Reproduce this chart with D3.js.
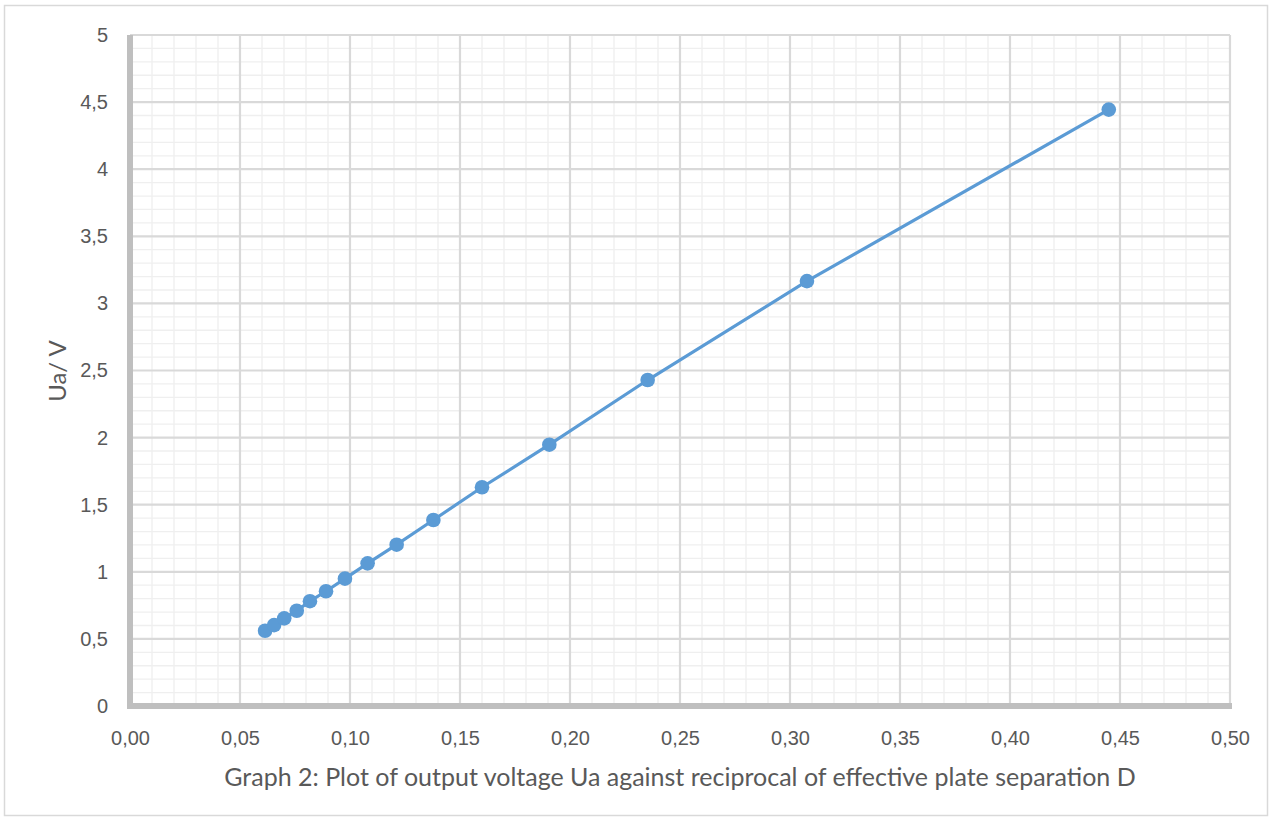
<!DOCTYPE html>
<html>
<head>
<meta charset="utf-8">
<script src="https://cdn.jsdelivr.net/npm/d3@7"></script>
<style>
  body { margin: 0; background: #fff; }
  svg { font-family: Lato, "Open Sans", sans-serif; }
</style>
</head>
<body>
<div class="canvas"></div>
<script>
// data
const xValues = [0.0614, 0.0655, 0.0701, 0.0758, 0.0818, 0.0891, 0.0977, 0.1080, 0.1212, 0.1379, 0.1600, 0.1906, 0.2353, 0.3077, 0.4449];
const yValues = [0.561, 0.603, 0.653, 0.710, 0.781, 0.855, 0.949, 1.063, 1.202, 1.386, 1.630, 1.947, 2.429, 3.166, 4.444];
const xTicks = [0, 0.05, 0.10, 0.15, 0.20, 0.25, 0.30, 0.35, 0.40, 0.45, 0.50];
const yTicks = [0, 0.5, 1, 1.5, 2, 2.5, 3, 3.5, 4, 4.5, 5];
const title = "Graph 2: Plot of output voltage Ua against reciprocal of effective plate separation D";
const yLabel = "Ua/ V";

// margins and dimensions
const w = 1272;
const h = 821;
const margin = { top: 35, right: 42, bottom: 115, left: 130 };
const graphWidth = w - margin.left - margin.right;
const graphHeight = h - margin.top - margin.bottom;

const svg = d3.select(".canvas").append("svg").attr("width", w).attr("height", h);

// outer chart border
svg.append("rect")
  .attr("x", 4.5).attr("y", 5.5)
  .attr("width", w - 9).attr("height", h - 11)
  .attr("fill", "none")
  .attr("stroke", "#d9d9d9")
  .attr("stroke-width", 1.5);

const graph = svg.append("g")
  .attr("transform", `translate(${margin.left}, ${margin.top})`);

const xScale = d3.scaleLinear().domain([0, 0.5]).range([0, graphWidth]);
const yScale = d3.scaleLinear().domain([0, 5]).range([graphHeight, 0]);

// minor gridlines
graph.append("g")
  .selectAll("line")
  .data(d3.range(1, 50).filter(i => i % 5 !== 0).map(i => i / 100))
  .enter().append("line")
  .attr("x1", d => xScale(d)).attr("x2", d => xScale(d))
  .attr("y1", 0).attr("y2", graphHeight)
  .attr("stroke", "#efefef").attr("stroke-width", 1.3);

graph.append("g")
  .selectAll("line")
  .data(d3.range(1, 50).filter(i => i % 5 !== 0).map(i => i / 10))
  .enter().append("line")
  .attr("y1", d => yScale(d)).attr("y2", d => yScale(d))
  .attr("x1", 0).attr("x2", graphWidth)
  .attr("stroke", "#efefef").attr("stroke-width", 1.3);

// major gridlines
graph.append("g")
  .selectAll("line")
  .data(xTicks.slice(1))
  .enter().append("line")
  .attr("x1", d => xScale(d)).attr("x2", d => xScale(d))
  .attr("y1", 0).attr("y2", graphHeight)
  .attr("stroke", "#d9d9d9").attr("stroke-width", 2.2);

graph.append("g")
  .selectAll("line")
  .data(yTicks.slice(1))
  .enter().append("line")
  .attr("y1", d => yScale(d)).attr("y2", d => yScale(d))
  .attr("x1", 0).attr("x2", graphWidth)
  .attr("stroke", "#d9d9d9").attr("stroke-width", 2.2);

// x-axis
const xAxis = d3.axisBottom(xScale).tickValues(xTicks).tickSize(0).tickPadding(25)
  .tickFormat(d => d3.format(".2f")(d).replace(".", ","));
const gx = graph.append("g")
  .attr("transform", `translate(0, ${graphHeight})`)
  .call(xAxis);
gx.select(".domain").remove();
gx.selectAll("text").attr("fill", "#595959").style("font-size", "20px");

// y-axis
const yAxis = d3.axisLeft(yScale).tickValues(yTicks).tickSize(0).tickPadding(22)
  .tickFormat(d => String(d).replace(".", ","));
const gy = graph.append("g").call(yAxis);
gy.select(".domain").remove();
gy.selectAll("text").attr("fill", "#595959").style("font-size", "20px");

// axis lines
graph.append("line")
  .attr("x1", xScale(0)).attr("x2", xScale(0))
  .attr("y1", yScale(5)).attr("y2", yScale(0) + 3)
  .attr("stroke", "#bfbfbf").attr("stroke-width", 6);
graph.append("line")
  .attr("x1", xScale(0) - 3).attr("x2", xScale(0.5) + 2)
  .attr("y1", yScale(0)).attr("y2", yScale(0))
  .attr("stroke", "#bfbfbf").attr("stroke-width", 6);

// series
const data = xValues.map((x, i) => ({ x, y: yValues[i] }));
const line = d3.line().x(d => xScale(d.x)).y(d => yScale(d.y));

graph.append("path")
  .datum(data)
  .attr("d", line)
  .attr("fill", "none")
  .attr("stroke", "#5b9bd5")
  .attr("stroke-width", 3.2);

graph.selectAll("circle.dot")
  .data(data)
  .enter().append("circle")
  .attr("class", "dot")
  .attr("cx", d => xScale(d.x))
  .attr("cy", d => yScale(d.y))
  .attr("r", 7.3)
  .attr("fill", "#5b9bd5");

// titles
svg.append("text")
  .attr("x", margin.left + graphWidth / 2)
  .attr("y", 786)
  .attr("text-anchor", "middle")
  .attr("fill", "#595959")
  .style("font-size", "25px")
  .text(title);

svg.append("text")
  .attr("transform", "translate(66, 371) rotate(-90)")
  .attr("text-anchor", "middle")
  .attr("fill", "#595959")
  .style("font-size", "24px")
  .text(yLabel);
</script>
</body>
</html>
